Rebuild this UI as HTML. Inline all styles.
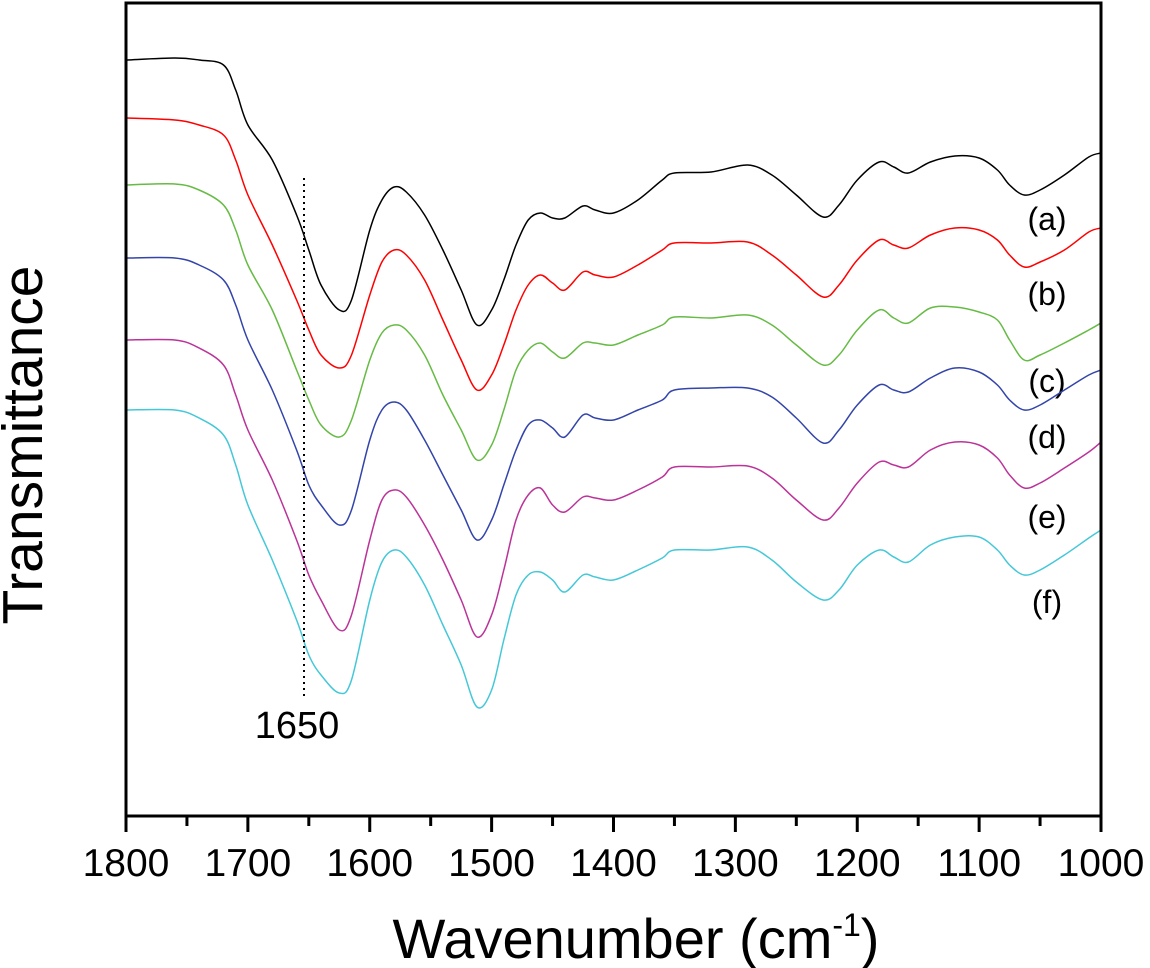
<!DOCTYPE html>
<html><head><meta charset="utf-8"><style>
html,body{margin:0;padding:0;background:#fff;}
svg{display:block;font-family:"Liberation Sans",Arial,sans-serif;}
</style></head><body>
<svg id="chart" width="1150" height="968" viewBox="0 0 1150 968" xmlns="http://www.w3.org/2000/svg">
<g id="series"></g>
<line x1="304" y1="178" x2="304" y2="697" stroke="#000" stroke-width="2" stroke-dasharray="2,4"/>
<text x="297" y="738" font-size="38" text-anchor="middle">1650</text>
<rect x="126" y="3" width="975" height="813" fill="none" stroke="#000" stroke-width="3"/>
<g id="ticks"></g>
<text transform="translate(42,445) rotate(-90)" font-size="57" text-anchor="middle">Transmittance</text>
<text x="636" y="958" font-size="56" text-anchor="middle">Wavenumber (cm<tspan font-size="32" dy="-22">-1</tspan><tspan dy="22">)</tspan></text>
</svg>
<script>
const wavenumbers=[1800,1760,1740,1720,1710,1700,1680,1660,1650,1640,1625,1615,1600,1590,1580,1570,1555,1540,1525,1512,1500,1490,1480,1470,1460,1450,1440,1425,1415,1400,1380,1360,1350,1320,1290,1270,1250,1228,1215,1200,1182,1170,1158,1140,1120,1100,1085,1075,1063,1050,1030,1010,1000];
const seriesA=[940,942,940,935,910,875,840,785,750,715,690,700,770,800,813,808,785,750,710,675,690,720,755,780,787,782,782,794,790,787,800,820,827,828,835,825,805,783,795,820,838,833,827,838,844,842,830,815,805,810,825,843,847];
const seriesB=[882,880,875,865,840,805,755,700,670,645,632,645,705,738,750,745,720,680,640,610,625,655,690,715,725,717,710,728,725,723,735,750,757,757,758,745,725,703,715,740,760,755,752,765,772,770,760,745,733,738,750,768,772];
const seriesC=[815,816,810,795,770,735,690,630,600,575,563,580,640,667,675,670,645,605,570,540,555,590,630,650,657,648,642,657,657,655,665,675,683,682,685,675,655,635,645,670,690,682,677,692,693,688,680,660,640,645,657,670,677];
const seriesD=[742,742,735,720,695,660,610,550,515,495,475,490,560,590,598,590,560,525,490,460,480,515,550,575,580,572,563,585,582,580,590,600,610,612,612,603,582,557,570,595,615,610,608,622,632,628,615,600,590,595,610,625,630];
const seriesE=[660,660,652,635,605,570,520,460,425,400,370,385,460,500,510,503,475,440,400,363,385,430,480,505,512,495,488,503,502,500,510,523,533,533,534,522,500,480,492,517,538,535,533,550,558,555,542,525,512,517,532,548,558];
const seriesF=[590,590,582,565,535,495,440,380,345,325,307,320,400,438,450,443,415,375,335,293,310,360,405,425,428,420,408,425,423,420,430,442,450,450,453,440,418,400,410,435,450,443,438,455,463,463,450,435,425,430,445,462,470];
const seriesColors=["#000000","#ff0000","#66bb44","#3344aa","#bb3399","#44c8d8"];
const seriesLabels=["(a)","(b)","(c)","(d)","(e)","(f)"];
const labelValues=[782,707,620,564,484,399];
const tickValues=[1800,1700,1600,1500,1400,1300,1200,1100,1000];
const minorTickValues=[1750,1650,1550,1450,1350,1250,1150,1050];

const NS="http://www.w3.org/2000/svg";
function xScale(w){return 126+(1800-w)*(975/800);}
function yScale(t){return 1000-t;}
const allSeries=[seriesA,seriesB,seriesC,seriesD,seriesE,seriesF];
const sg=document.getElementById('series');
allSeries.forEach((s,i)=>{
  const pts=s.map((v,j)=>[xScale(wavenumbers[j]),yScale(v)]);
  let d="M"+pts[0][0]+","+pts[0][1];
  for(let j=0;j<pts.length-1;j++){
    const p0=pts[Math.max(j-1,0)],p1=pts[j],p2=pts[j+1],p3=pts[Math.min(j+2,pts.length-1)];
    const c1x=p1[0]+(p2[0]-p0[0])/6,c1y=p1[1]+(p2[1]-p0[1])/6;
    const c2x=p2[0]-(p3[0]-p1[0])/6,c2y=p2[1]-(p3[1]-p1[1])/6;
    d+=" C"+c1x.toFixed(1)+","+c1y.toFixed(1)+" "+c2x.toFixed(1)+","+c2y.toFixed(1)+" "+p2[0].toFixed(1)+","+p2[1].toFixed(1);
  }
  const p=document.createElementNS(NS,'path');
  p.setAttribute('d',d);p.setAttribute('fill','none');
  p.setAttribute('stroke',seriesColors[i]);p.setAttribute('stroke-width','1.5');
  
  
  sg.appendChild(p);
  const t=document.createElementNS(NS,'text');
  t.setAttribute('x',1047);t.setAttribute('y',yScale(labelValues[i])+12);
  t.setAttribute('font-size','32');t.setAttribute('text-anchor','middle');
  t.textContent=seriesLabels[i];
  
  
  sg.appendChild(t);
});
const tg=document.getElementById('ticks');
tickValues.forEach(v=>{
  const l=document.createElementNS(NS,'line');
  l.setAttribute('x1',xScale(v));l.setAttribute('x2',xScale(v));
  l.setAttribute('y1',816);l.setAttribute('y2',832);
  l.setAttribute('stroke','#000');l.setAttribute('stroke-width','3');
  
  
  tg.appendChild(l);
  const t=document.createElementNS(NS,'text');
  t.setAttribute('x',xScale(v));t.setAttribute('y',876);
  t.setAttribute('font-size','39');t.setAttribute('text-anchor','middle');
  t.textContent=v;
  
  
  tg.appendChild(t);
});
minorTickValues.forEach(v=>{
  const l=document.createElementNS(NS,'line');
  l.setAttribute('x1',xScale(v));l.setAttribute('x2',xScale(v));
  l.setAttribute('y1',816);l.setAttribute('y2',826);
  l.setAttribute('stroke','#000');l.setAttribute('stroke-width','3');
  
  
  tg.appendChild(l);
});
</script>
</body></html>
